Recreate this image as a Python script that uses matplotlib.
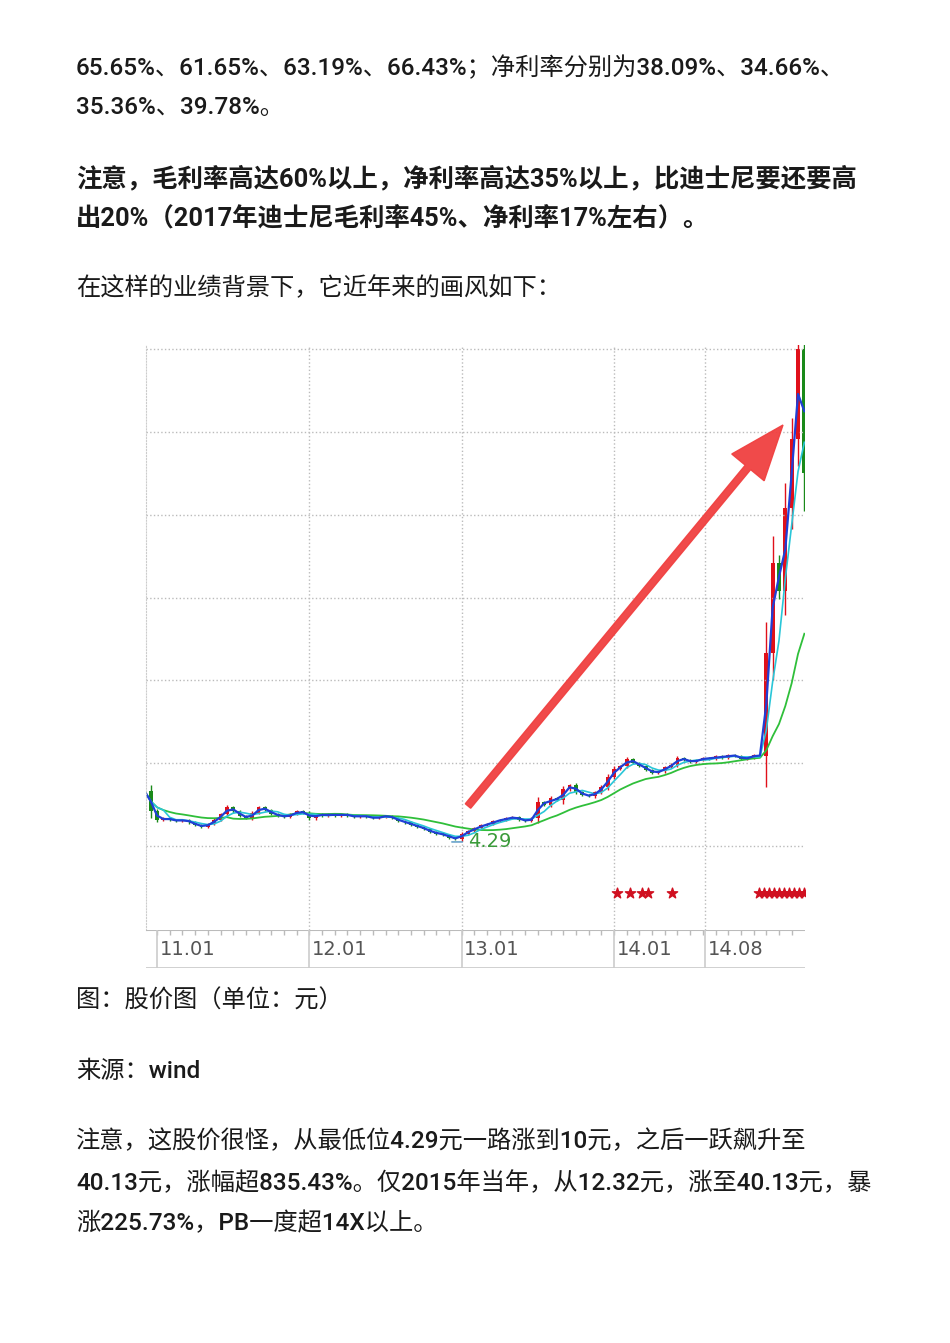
import numpy as np
import pandas as pd
import matplotlib
matplotlib.use("Agg")
import matplotlib.pyplot as plt
from matplotlib.patches import FancyArrow

plt.rcParams['font.family'] = ['Roboto', 'Noto Sans CJK SC', 'DejaVu Sans']

# half-month closes, starting at month index -1 (2010.12), month 0 = 2011.01
start_month = -1.0
closes_2010 = [8.0, 6.5]
closes_2011 = [5.9, 6.0, 5.9, 5.8, 5.9, 5.7, 5.5, 5.4, 5.6, 5.9, 6.3, 6.8, 6.5, 6.2, 6.0, 6.4,
               6.8, 6.6, 6.3, 6.2, 6.1, 6.3, 6.5, 6.4]
closes_2012 = [6.0, 6.3, 6.2, 6.3, 6.2, 6.3, 6.2, 6.1, 6.2, 6.1, 6.0, 6.1, 6.2, 6.0, 5.8, 5.7,
               5.5, 5.4, 5.2, 5.0, 4.9, 4.8, 4.6, 4.5]
closes_2013 = [4.9, 5.1, 5.3, 5.5, 5.6, 5.8, 5.9, 6.0, 6.1, 5.9, 5.8, 6.0, 7.2, 7.0, 7.5, 7.3,
               8.1, 8.4, 7.9, 7.7, 7.6, 7.9, 8.3, 9.0]
closes_2014 = [9.6, 9.8, 10.3, 10.0, 9.8, 9.5, 9.3, 9.4, 9.7, 9.9, 10.4, 10.2, 10.1, 10.2, 10.4,
               10.3, 10.5, 10.4, 10.6, 10.5, 10.3, 10.4, 10.6, 10.5]
closes_2015 = [18.0, 24.5, 22.5, 28.5, 33.5, 40.0, 31.0]
low_price = 4.29
low_label = "4.29"
tick_months = [0, 12, 24, 36, 43.2]
tick_labels = ["11.01", "12.01", "13.01", "14.01", "14.08"]
star_months = [36.2, 37.3, 38.2, 38.7, 40.6, 47.4, 47.8, 48.2, 48.6, 49.0, 49.4, 49.8, 50.2, 50.6, 51.0]

closes = np.array(closes_2010 + closes_2011 + closes_2012 + closes_2013 + closes_2014 + closes_2015)
months = start_month + 0.5 * np.arange(len(closes))
s = pd.Series(closes)
ma_short = s.rolling(2, min_periods=1).mean()
ma_mid = s.rolling(4, min_periods=1).mean()
ma_long = s.rolling(14, min_periods=1).mean()

W, H = 950, 1343
fig = plt.figure(figsize=(9.5, 13.43), dpi=100)
fig.patch.set_facecolor('white')

def fy(y):
    return 1 - y / H

lines = [
    (68, "65.65%、61.65%、63.19%、66.43%；净利率分别为38.09%、34.66%、", 'medium', 17.5),
    (108, "35.36%、39.78%。", 'medium', 17.5),
    (178, "注意，毛利率高达60%以上，净利率高达35%以上，比迪士尼要还要高", 'bold', 18.3),
    (218, "出20%（2017年迪士尼毛利率45%、净利率17%左右）。", 'bold', 18.3),
    (288, "在这样的业绩背景下，它近年来的画风如下：", 'medium', 17.5),
    (1001, "图：股价图（单位：元）", 'medium', 17.5),
    (1071, "来源：wind", 'medium', 17.5),
    (1141, "注意，这股价很怪，从最低位4.29元一路涨到10元，之后一跃飙升至", 'medium', 17.5),
    (1183, "40.13元，涨幅超835.43%。仅2015年当年，从12.32元，涨至40.13元，暴", 'medium', 17.5),
    (1223, "涨225.73%，PB一度超14X以上。", 'medium', 17.5),
]
for y, t, w, fs in lines:
    fig.text(76 / W, fy(y), t, fontsize=fs, fontweight=w, color='#1a1a1a', va='center', ha='left')

x0, x1, ytop, ybot = 146, 805, 345, 930
ax = fig.add_axes([x0 / W, fy(ybot), (x1 - x0) / W, (ybot - ytop) / H])
ax.set_xlim(-0.87, 51.05)
ax.set_ylim(-2.09, 40.3)
for sp in ax.spines.values():
    sp.set_visible(False)
ax.spines['left'].set_visible(True)
ax.spines['left'].set_color('#cccccc')
ax.spines['left'].set_linestyle(':')
ax.set_xticks([])
ax.set_yticks([])
for gy in [4, 10, 16, 22, 28, 34, 40]:
    ax.axhline(gy, color='#bbbbbb', ls=':', lw=1)
for gx in tick_months[1:]:
    ax.axvline(gx, color='#bbbbbb', ls=':', lw=1)

opens = np.concatenate([[closes[0]], closes[:-1]])
for m, o, c in zip(months, opens, closes):
    col = '#e0101a' if c >= o else '#1a8a1a'
    lo, hi = min(o, c), max(o, c)
    span = max(hi - lo, 0.25)
    ax.vlines(m, lo - span * 0.3, hi + span * 0.3, color=col, lw=1)
    ax.bar(m, max(hi - lo, 0.1), bottom=lo, width=0.3, color=col)

ax.plot(months, ma_long, color='#2fbf3a', lw=1.3)
ax.plot(months, ma_mid, color='#29c6d8', lw=1.2)
ax.plot(months, ma_short, color='#1f3fd6', lw=1.6)

imin = int(np.argmin(closes))
ax.annotate(low_label, xy=(months[imin] - 0.5, low_price), xytext=(months[imin] + 1.0, low_price),
            color='#3a9a3a', fontsize=14, family='DejaVu Sans', va='center',
            arrowprops=dict(arrowstyle='-', color='#4a90c0', lw=1))

ax.scatter(star_months, [0.6] * len(star_months), marker='*', s=60, color='#d01020', zorder=5)

ax_arrow = fig.add_axes([0, 0, 1, 1], facecolor='none')
ax_arrow.set_xlim(0, W); ax_arrow.set_ylim(H, 0); ax_arrow.axis('off')
ax_arrow.add_patch(FancyArrow(468, 806, 783 - 468, 425 - 806, width=7, head_width=42, head_length=55,
                              length_includes_head=True, color='#f04040', alpha=0.95))

ax2 = fig.add_axes([x0 / W, fy(968), (x1 - x0) / W, 38 / H])
ax2.set_xlim(-0.87, 51.05)
ax2.set_ylim(0, 1)
ax2.axis('off')
ax2.axhline(1, color='#bbbbbb', lw=1.5)
ax2.axhline(0, color='#cccccc', lw=2)
for m in np.arange(0, 51, 1.0):
    ax2.vlines(m, 0.88, 1, color='#bbbbbb', lw=1)
for m, lab in zip(tick_months, tick_labels):
    ax2.vlines(m, 0, 1, color='#cccccc', lw=1.2)
    ax2.text(m + 0.2, 0.48, lab, fontsize=14, color='#555555', family='DejaVu Sans', va='center', ha='left')

fig.savefig('out.png', dpi=100, facecolor='white')
